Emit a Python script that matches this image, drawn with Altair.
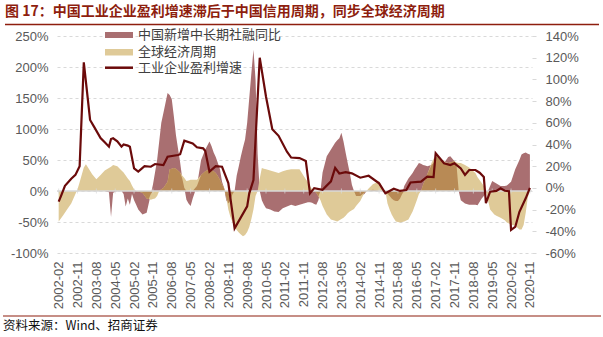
import altair as alt
import pandas as pd

# ---------------- data ----------------
series_names = ["中国新增中长期社融同比", "全球经济周期", "工业企业盈利增速"]

area_months = [
    "2002-02", "2002-04", "2002-06", "2002-08", "2002-10", "2002-11", "2002-12",
    "2003-02", "2003-03", "2003-04", "2003-06", "2003-08", "2003-10", "2003-12",
    "2004-02", "2004-03", "2004-04", "2004-06", "2004-08", "2004-09", "2004-10", "2004-11", "2004-12",
    "2005-01", "2005-02", "2005-03", "2005-04", "2005-06", "2005-08", "2005-09", "2005-10", "2005-11", "2005-12",
    "2006-01", "2006-02", "2006-03", "2006-04", "2006-06", "2006-07", "2006-08", "2006-09", "2006-10", "2006-12",
    "2007-01", "2007-02", "2007-03", "2007-04", "2007-05", "2007-06", "2007-08", "2007-10", "2007-12",
    "2008-02", "2008-03", "2008-04", "2008-05", "2008-06", "2008-07", "2008-08", "2008-09", "2008-10", "2008-11", "2008-12",
    "2009-01", "2009-02", "2009-03", "2009-04", "2009-05", "2009-06", "2009-07", "2009-08", "2009-09", "2009-10", "2009-11", "2009-12",
    "2010-01", "2010-02", "2010-03", "2010-04", "2010-05", "2010-07", "2010-09", "2010-11",
    "2011-01", "2011-03", "2011-05", "2011-07", "2011-09", "2011-11",
    "2012-01", "2012-02", "2012-03", "2012-04", "2012-05", "2012-06", "2012-07", "2012-08", "2012-10", "2012-12",
    "2013-02", "2013-03", "2013-04", "2013-05", "2013-06", "2013-07", "2013-08", "2013-09", "2013-10", "2013-11", "2013-12",
    "2014-02", "2014-04", "2014-05", "2014-06", "2014-08", "2014-10", "2014-11",
    "2015-01", "2015-02", "2015-03", "2015-04", "2015-05", "2015-06", "2015-07", "2015-08", "2015-09", "2015-10", "2015-11",
    "2016-01", "2016-03", "2016-04", "2016-05", "2016-06", "2016-07", "2016-08", "2016-09", "2016-10", "2016-12",
    "2017-01", "2017-02", "2017-03", "2017-04", "2017-06", "2017-08", "2017-09", "2017-10", "2017-11", "2017-12",
    "2018-01", "2018-02", "2018-04", "2018-06", "2018-08", "2018-09", "2018-10", "2018-12",
    "2019-01", "2019-02", "2019-03", "2019-04", "2019-05", "2019-06", "2019-07", "2019-09", "2019-11", "2019-12",
    "2020-02", "2020-04", "2020-06", "2020-07", "2020-08", "2020-09", "2020-10", "2020-11",
]

social_fin = [
    0, 0, 0, 0, 0, 0, 0,
    0, 0, 0, 0, 0, 0, 0,
    -2, -42, -3, 0, 0, -5, -25, -12, -22,
    -5, -15, -22, -30, -38, -35, -20, -5, 10, 30,
    50, 80, 110, 126, 158, 155, 148, 120, 90, 46,
    20, 5, -14, -20, -24, -12, 8, 50, 67,
    80, 72, 62, 55, 45, 35, 15, 5, -15, -20, -15,
    -5, 0, 25, 40, 56, 70, 83, 110, 150, 190, 228, 180,
    60, 0, -15, -22, -28, -30, -33, -34,
    -28, -25, -22, -24, -22, -20,
    -18, -18, -19, -21, -22, -15, 0, 30, 56, 67,
    78, 82, 85, 94, 80, 62, 45, 29, 10, 0, -8,
    -8, -5, 0, 0, 2, 1, 0,
    0, 0, -4, -8, -12, -15, -16, -16, -12, -5, 8,
    20, 29, 35, 40, 45, 44, 42, 41, 40, 42,
    45, 56, 54, 50, 45, 55, 56, 52, 48, 40,
    0, -15, -20, -22, -22, -22, -23, -12,
    -8, -3, 0, 8, 16, 14, 12, 8, 8, 9,
    15, 35, 50, 59, 61, 62, 60, 59,
]

global_cycle = [
    -49, -40, -30, -20, -5, 3, 14,
    38, 43, 38, 27, 19, 26, 33,
    37, 39, 42, 40, 33, 30, 25, 20, 16,
    9, 3, 0, -1, -3, -12, -13, -14, -13, -12,
    -8, 0, 3, 5, 15, 35, 36, 37, 36, 30,
    25, 21, 16, 17, 18, 18, 18, 26, 32,
    35, 34, 32, 29, 24, 18, 11, 4, -10, -30, -42,
    -50, -58, -63, -67, -70, -73, -71, -66, -58, -45, -30, -8,
    0, 20, 37, 36, 35, 33, 31, 29,
    32, 34, 35, 35, 35, 24,
    14, 8, 3, 0, -3, -9, -15, -24, -38, -46,
    -48, -49, -47, -45, -43, -40, -36, -33, -31, -29, -24,
    -16, -3, 0, 4, 11, 14, 16,
    3, 0, -20, -30, -38, -44, -49, -50, -51, -50, -49,
    -46, -33, -24, -15, -5, 0, 10, 18, 27, 45,
    52, 56, 54, 52, 48, 45, 46, 47, 48, 46,
    45, 45, 42, 38, 32, 29, 22, 13,
    8, 2, -15, -30, -34, -38, -40, -43, -47, -51,
    -54, -56, -62, -62, -55, -35, -10, 0,
]

profit_months = [
    "2002-02", "2002-03", "2002-05", "2002-08", "2002-10", "2002-12",
    "2003-02", "2003-05", "2003-07", "2003-10", "2003-12",
    "2004-02", "2004-03", "2004-04", "2004-06", "2004-08", "2004-09", "2004-11", "2004-12",
    "2005-02", "2005-04", "2005-07", "2005-10", "2005-12",
    "2006-04", "2006-06", "2006-11", "2006-12",
    "2007-02", "2007-06", "2007-08", "2007-11", "2007-12",
    "2008-02", "2008-05", "2008-08", "2008-11",
    "2009-02", "2009-08", "2009-09", "2009-11",
    "2010-02", "2010-05", "2010-08", "2010-11",
    "2011-03", "2011-05", "2011-09", "2011-12",
    "2012-02", "2012-04", "2012-08", "2012-12",
    "2013-02", "2013-04", "2013-07", "2013-10",
    "2014-02", "2014-06", "2014-11",
    "2015-02", "2015-06", "2015-09", "2015-12",
    "2016-02", "2016-07", "2016-10",
    "2017-01", "2017-02", "2017-06", "2017-09", "2017-11",
    "2018-02", "2018-04", "2018-06", "2018-09", "2018-11",
    "2019-01", "2019-02", "2019-04", "2019-07", "2019-09", "2019-11",
    "2020-01", "2020-02", "2020-04", "2020-06", "2020-09", "2020-11",
]

profit_growth = [
    -12.7, -8, 2, 8.5, 12, 20,
    115.7, 62.6, 56, 46, 42,
    38, 45, 45.7, 43, 38, 40, 39, 38,
    18, 15, 20, 19.5, 22,
    21, 28.8, 30.3, 31,
    43.5, 41, 37.4, 36.5, 34,
    15, 20, 19.5, 4.5,
    -37.3, -17, -5, 7.3,
    120, 84, 54, 48,
    33.4, 28, 27.5, 24.8,
    -5, -0.2, -1.8, 6,
    18.5, 13.3, 14.5, 13.4,
    9.4, 11.2, 4.2,
    -5, -0.8, -2.8, -2,
    5, 5.7, 10.3,
    10, 32, 22.7, 21, 22.7,
    18, 12, 16.5, 16.5, 14,
    10, -14, -3.5, -2.8, -0.4, -2.6,
    -3, -38.8, -36, -22, -9.6, 0,
]

tick_labels = [
    "2002-02", "2002-11", "2003-08", "2004-05", "2005-02", "2005-11", "2006-08",
    "2007-05", "2008-02", "2008-11", "2009-08", "2010-05", "2011-02", "2011-11",
    "2012-08", "2013-05", "2014-02", "2014-11", "2015-08", "2016-05", "2017-02",
    "2017-11", "2018-08", "2019-05", "2020-02", "2020-11",
]

left_ticks = [-100, -50, 0, 50, 100, 150, 200, 250]
right_ticks = [-60, -40, -20, 0, 20, 40, 60, 80, 100, 120, 140]

title_text = "图 17：中国工业企业盈利增速滞后于中国信用周期，同步全球经济周期"
source_text = "资料来源：Wind、招商证券"

# ---------------- styles ----------------
C_SOC = "#A96F71"
C_GLB = "#DFCA98"
C_OVL = "#B88A55"
C_LINE = "#6B0A0A"
C_RED = "#8E1E0E"
C_TXT = "#595959"
GRID = "#D9D9D9"
LAT = "Liberation Sans"
CJK = "Noto Sans CJK SC"

W, H = 475, 217


def month_index(s):
    y, mo = s.split("-")
    return (int(y) - 2002) * 12 + int(mo) - 2


area_df = pd.DataFrame({
    "m": [month_index(s) for s in area_months],
    "s": social_fin,
    "g": global_cycle,
})
line_df = pd.DataFrame({"m": [month_index(s) for s in profit_months], "v": profit_growth})
tick_m = [month_index(s) for s in tick_labels]
tick_df = pd.DataFrame({"m": tick_m, "s": [0] * len(tick_m)})
zero_df = pd.DataFrame({"m": [0], "s": [0]})

lab_arr = "[" + ",".join("'%s'" % t for t in tick_labels) + "]"
val_arr = "[" + ",".join(str(v) for v in tick_m) + "]"
x_label_expr = lab_arr + "[indexof(" + val_arr + ", datum.value)]"

x_scale = alt.Scale(domain=[-0.8, 226], nice=False, zero=False)
yl_scale = alt.Scale(domain=[-100, 250], nice=False, zero=False)
yr_scale = alt.Scale(domain=[-60, 140], nice=False, zero=False)

x_axis = alt.Axis(
    values=tick_m, labelExpr=x_label_expr, labelAngle=-90, labelFontSize=13,
    labelColor=C_TXT, labelFont=LAT, labelPadding=8, ticks=False, domain=False,
    grid=False, title=None, labelOverlap=False, labelFlush=False, labelBound=False,
)
yl_axis = alt.Axis(
    values=left_ticks, labelExpr="datum.value + '%'", grid=True, gridDash=[3, 3],
    gridColor=GRID, gridWidth=1, domain=False, ticks=False, labelPadding=9,
    labelFontSize=13, labelColor=C_TXT, labelFont=LAT, title=None,
)
yr_axis = alt.Axis(
    orient="right", values=right_ticks, labelExpr="datum.value + '%'", grid=False,
    domain=False, ticks=True, tickSize=4, tickColor=GRID, labelPadding=9,
    labelFontSize=13, labelColor=C_TXT, labelFont=LAT, title=None,
)

X = alt.X("m:Q", scale=x_scale, axis=x_axis, title=None)

base = alt.Chart(area_df)
soc = base.mark_area(color=C_SOC, interpolate="linear").encode(
    x=X,
    y=alt.Y("s:Q", scale=yl_scale, axis=yl_axis, title=None),
)
glb = base.transform_calculate(s="datum.g").mark_area(color=C_GLB, interpolate="linear").encode(
    x=X,
    y=alt.Y("s:Q", scale=yl_scale, axis=yl_axis, title=None),
)
ovl = base.transform_calculate(
    s="datum.s * datum.g > 0 ? (datum.s > 0 ? min(datum.s, datum.g) : max(datum.s, datum.g)) : 0"
).mark_area(color=C_OVL, interpolate="linear").encode(
    x=X,
    y=alt.Y("s:Q", scale=yl_scale, axis=yl_axis, title=None),
)
zero_rule = alt.Chart(zero_df).mark_rule(color=GRID, strokeWidth=1.5).encode(
    y=alt.Y("s:Q", scale=yl_scale, axis=yl_axis, title=None),
    x=alt.value(0), x2=alt.value(W),
)
zero_ticks = alt.Chart(tick_df).mark_tick(color=GRID, orient="vertical", size=5, thickness=1).encode(
    x=X,
    y=alt.Y("s:Q", scale=yl_scale, axis=yl_axis, title=None),
)

# legend (top-left, inside the plot)
leg_soc = alt.Chart(pd.DataFrame({"n": [series_names[0]]})).mark_rect(color=C_SOC).encode(
    x=alt.value(48), x2=alt.value(76), y=alt.value(-4), y2=alt.value(2))
leg_glb = alt.Chart(pd.DataFrame({"n": [series_names[1]]})).mark_rect(color=C_GLB).encode(
    x=alt.value(48), x2=alt.value(76), y=alt.value(13), y2=alt.value(19.5))
leg_line = alt.Chart(pd.DataFrame({"n": [series_names[2]]})).mark_rule(color=C_LINE, strokeWidth=2.5).encode(
    x=alt.value(48), x2=alt.value(76), y=alt.value(31.7))
leg_txt = []
for name, yy in zip(series_names, [-1, 16.3, 31.7]):
    leg_txt.append(
        alt.Chart(pd.DataFrame({"n": [name]})).mark_text(
            align="left", baseline="middle", font=CJK, fontSize=13, color="#404040"
        ).encode(text="n:N", x=alt.value(81), y=alt.value(yy))
    )

# title, source and decorative rules
title = alt.Chart(pd.DataFrame({"t": [title_text]})).mark_text(
    align="left", baseline="middle", font=CJK, fontSize=14, fontWeight="bold", color=C_RED
).encode(text="t:N", x=alt.value(-52), y=alt.value(-24))
title_rule = alt.Chart(pd.DataFrame({"t": [0]})).mark_rule(color=C_RED, strokeWidth=1.5).encode(
    x=alt.value(-52), x2=alt.value(542), y=alt.value(-11.5))
source = alt.Chart(pd.DataFrame({"t": [source_text]})).mark_text(
    align="left", baseline="middle", font=CJK, fontSize=12.5, color="#111111"
).encode(text="t:N", x=alt.value(-54), y=alt.value(289.5))
source_rule = alt.Chart(pd.DataFrame({"t": [0]})).mark_rule(color=C_RED, strokeWidth=1.2).encode(
    x=alt.value(-54), x2=alt.value(544), y=alt.value(280))

left_layer = alt.layer(
    soc, glb, ovl, zero_rule, zero_ticks,
    leg_soc, leg_glb, leg_line, *leg_txt,
    title, title_rule, source, source_rule,
)

line = alt.Chart(line_df).mark_line(color=C_LINE, strokeWidth=2.2, interpolate="linear").encode(
    x=X,
    y=alt.Y("v:Q", scale=yr_scale, axis=yr_axis, title=None),
)

chart = alt.layer(left_layer, line).resolve_scale(y="independent").properties(
    width=W, height=H,
    padding={"left": 57, "top": 36, "right": 71, "bottom": 84},
    autosize=alt.AutoSizeParams(type="none"),
    background="white",
).configure_view(stroke=None)

chart.save("out.html", embed_options={"renderer": "svg", "actions": False})
